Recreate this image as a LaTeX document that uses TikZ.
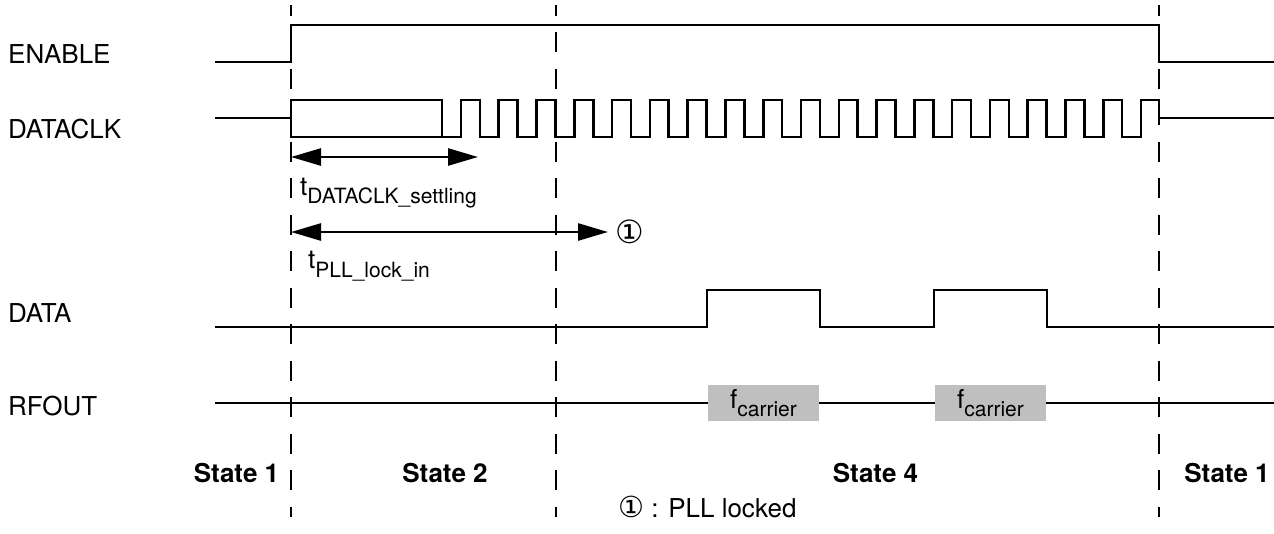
\documentclass[tikz,border=0pt]{standalone}
\usepackage{fontspec}
\setmainfont{TeX Gyre Heros}
\newfontfamily\symfont{DejaVu Sans}
\usetikzlibrary{arrows.meta}
\begin{document}
\begin{tikzpicture}[x=1pt,y=-1pt,
  wave/.style={line width=2.6pt, line join=miter},
  guide/.style={line width=2.6pt, dash pattern=on 20pt off 16.5pt, dash phase=9.5pt},
  lbl/.style={anchor=base west, inner sep=0pt, font=\fontsize{26}{30}\selectfont},
  statelbl/.style={anchor=base, inner sep=0pt, font=\fontsize{26}{30}\selectfont\bfseries},
  dim/.style={line width=2.6pt, {Triangle[length=30pt,width=17pt]}-{Triangle[length=30pt,width=17pt]}},
  carrier/.style={fill=black!25, draw=none, minimum width=111pt, minimum height=36pt, inner sep=0pt, font=\fontsize{26}{30}\selectfont},
  circ/.style={inner sep=0pt, font=\symfont\fontsize{32}{36}\selectfont}]
\useasboundingbox (0,0) rectangle (1274,533);
% guides
\draw[guide] (291,5) -- (291,517);
\draw[guide] (556,5) -- (556,517);
\draw[guide] (1159,5) -- (1159,517);
% signal names
\node[lbl] (nEnable) at (8,63) {ENABLE};
\node[lbl] (nClk) at (8,138) {DATACLK};
\node[lbl] (nData) at (8,322) {DATA};
\node[lbl] (nRf) at (8,415) {RFOUT};
% ENABLE
\draw[wave] (215,62) -- (291,62) -- (291,25) -- (1159,25) -- (1159,62) -- (1274,62);
% DATACLK
\draw[wave] (215,118) -- (291,118);
\draw[wave] (291,100) rectangle (442,137);
\draw[wave] (442,137) foreach \k in {0,...,17} { -- ({461+37.78*\k},137) -- ({461+37.78*\k},100) -- ({479.89+37.78*\k},100) -- ({479.89+37.78*\k},137) } -- (1141,137) -- (1141,100) -- (1159,100) -- (1159,118) -- (1274,118);
% DATA
\draw[wave] (215,327) -- (707,327) -- (707,290) -- (820,290) -- (820,327) -- (934,327) -- (934,290) -- (1047,290) -- (1047,327) -- (1274,327);
% RFOUT
\node[carrier] (c1) at (763.5,403) {f\raisebox{-8pt}{\fontsize{21}{24}\selectfont carrier}};
\node[carrier] (c2) at (990.5,403) {f\raisebox{-8pt}{\fontsize{21}{24}\selectfont carrier}};
\coordinate (rfs) at (215,403);
\coordinate (rfe) at (1274,403);
\draw[wave] (rfs) -- (c1.west);
\draw[wave] (c1.east) -- (c2.west);
\draw[wave] (c2.east) -- (rfe);
% timing arrows
\coordinate (a1s) at (291,157);
\coordinate (a1e) at (478,157);
\draw[dim] (a1s) -- (a1e);
\node[lbl] (t1) at (300,195) {t\raisebox{-8.5pt}{\fontsize{21}{24}\selectfont DATACLK\_settling}};
\coordinate (a2s) at (291,232);
\node[circ] (lock) at (630,232) {①};
\draw[dim] (a2s) -- (608,232);
\node[lbl] (t2) at (308,268) {t\raisebox{-9pt}{\fontsize{21}{24}\selectfont PLL\_lock\_in}};
% states
\node[statelbl] (s1) at (236.5,482) {State 1};
\node[statelbl] (s2) at (445,482) {State 2};
\node[statelbl] (s4) at (875.5,482) {State 4};
\node[statelbl] (s1b) at (1227,482) {State 1};
% note
\node[lbl] (note) at (618,517) {{\symfont\fontsize{29}{32}\selectfont ①} : PLL locked};
\end{tikzpicture}
\end{document}
